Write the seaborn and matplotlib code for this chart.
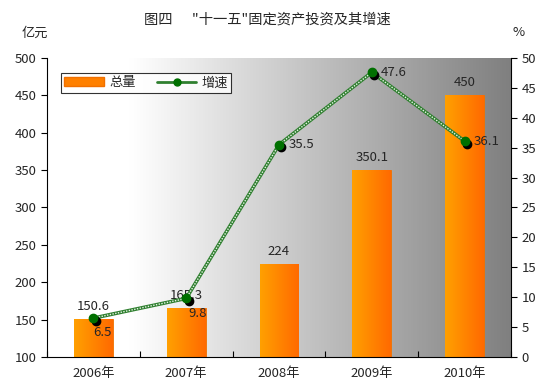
import numpy as np
import pandas as pd
import matplotlib
matplotlib.use('Agg')
import matplotlib.pyplot as plt
import seaborn as sns
from matplotlib.colors import LinearSegmentedColormap
from matplotlib.lines import Line2D
from matplotlib.patches import Patch

years = ['2006年', '2007年', '2008年', '2009年', '2010年']
total = [150.6, 165.3, 224, 350.1, 450]
growth = [6.5, 9.8, 35.5, 47.6, 36.1]
total_labels = ['150.6', '165.3', '224', '350.1', '450']
growth_labels = ['6.5', '9.8', '35.5', '47.6', '36.1']

sns.set_style('white')
plt.rcParams['font.family'] = ['Noto Sans CJK SC', 'DejaVu Sans']
plt.rcParams['axes.unicode_minus'] = False

df = pd.DataFrame({'year': years, 'total': total, 'growth': growth})

fig = plt.figure(figsize=(5.53, 3.88), dpi=100)
ax = fig.add_axes([47/553, 1-357/388, (511-47)/553, (357-58)/388])

# background gradient white -> gray
t = np.linspace(0, 1, 256)
g = np.where(t < 0.18, 1.0, 1.0 - (t - 0.18) / 0.82 * 0.5)
bg = np.dstack([g, g, g])
ax.imshow(bg, extent=[-0.5, 4.5, 100, 500], aspect='auto', zorder=0)

sns.barplot(data=df, x='year', y='total', ax=ax, color='#FF8000', width=0.42,
            saturation=1, zorder=2)
orange = LinearSegmentedColormap.from_list('o', ['#FFA000', '#FF6A00'])
for i, p in enumerate(ax.patches):
    x0, w, h = p.get_x(), p.get_width(), p.get_height()
    p.set_edgecolor('#F07000')
    p.set_linewidth(0.6)
    ax.imshow(np.linspace(0, 1, 64).reshape(1, -1), cmap=orange,
              extent=[x0, x0 + w, 100, h], aspect='auto', zorder=2.5)
    ax.text(x0 + w / 2, h + 8, total_labels[i], ha='center',
            va='bottom', fontsize=9.5, zorder=6)

ax.set_xlim(-0.5, 4.5)
ax.set_ylim(100, 500)
ax.set_yticks(range(100, 501, 50))
ax.set_xticks(np.arange(-0.5, 4.6, 1), minor=False)
ax.set_xticklabels([])
ax.set_xticks(range(5), minor=True)
ax.set_xticklabels(years, minor=True)
ax.tick_params(axis='x', which='major', direction='in', length=4, color='black', bottom=True)
ax.tick_params(axis='x', which='minor', length=0, labelsize=9.5, pad=7)
ax.tick_params(axis='y', direction='out', length=4, color='black', left=True, labelsize=9.5)
ax.set_xlabel('')
ax.set_ylabel('')
for s in ['top', 'right']:
    ax.spines[s].set_visible(False)
for s in ['left', 'bottom']:
    ax.spines[s].set_color('black')
    ax.spines[s].set_linewidth(0.8)

ax2 = ax.twinx()
xs = np.arange(5)
sns.lineplot(x=xs, y=growth, ax=ax2, color='#2F7F2F', linewidth=2.6, zorder=3)
ax2.plot(xs, growth, color='#E8F5E8', linewidth=1.0, dashes=(1, 1), zorder=3.5)
ax2.scatter(xs + 0.025, np.array(growth) - 0.45, s=36, color='black', zorder=4)
ax2.scatter(xs, growth, s=36, color='#007000', zorder=5)
offsets = [(0.0, -2.4), (0.02, -2.6), (0.1, 0), (0.1, 0), (0.1, 0)]
for i, lab in enumerate(growth_labels):
    dx, dy = offsets[i]
    ax2.text(xs[i] + dx, growth[i] + dy, lab, ha='left', va='center', fontsize=9.5, zorder=6)
ax2.set_ylim(0, 50)
ax2.set_yticks(range(0, 51, 5))
ax2.tick_params(axis='y', direction='out', length=4, color='black', right=True, labelsize=9.5)
for s in ['top', 'left', 'bottom']:
    ax2.spines[s].set_visible(False)
ax2.spines['right'].set_color('black')
ax2.spines['right'].set_linewidth(0.8)
ax2.set_xlim(-0.5, 4.5)

handles = [Patch(facecolor='#FF8000', edgecolor='#F07000'),
           Line2D([0], [0], color='#2F7F2F', lw=2, marker='o', markersize=5,
                  markerfacecolor='#007000', markeredgecolor='#007000')]
leg = ax2.legend(handles, ['总量', '增速'], ncol=2, loc='upper left',
                 bbox_to_anchor=((61-47)/464, 1-(73-58)/299), fontsize=9.5,
                 frameon=True, fancybox=False, edgecolor='black', handlelength=3.0,
                 handleheight=0.6, borderpad=0.25, columnspacing=1.6, borderaxespad=0,
                 handletextpad=0.4)
leg.get_frame().set_linewidth(0.8)
leg.set_zorder(10)

fig.text(267/553, 1-20/388, '图四      "十一五"固定资产投资及其增速', ha='center', va='center', fontsize=10.3)
fig.text(35/553, 1-33/388, '亿元', ha='center', va='center', fontsize=9.5)
fig.text(519/553, 1-33/388, '%', ha='center', va='center', fontsize=9.5)

fig.savefig('out.png', dpi=100)
